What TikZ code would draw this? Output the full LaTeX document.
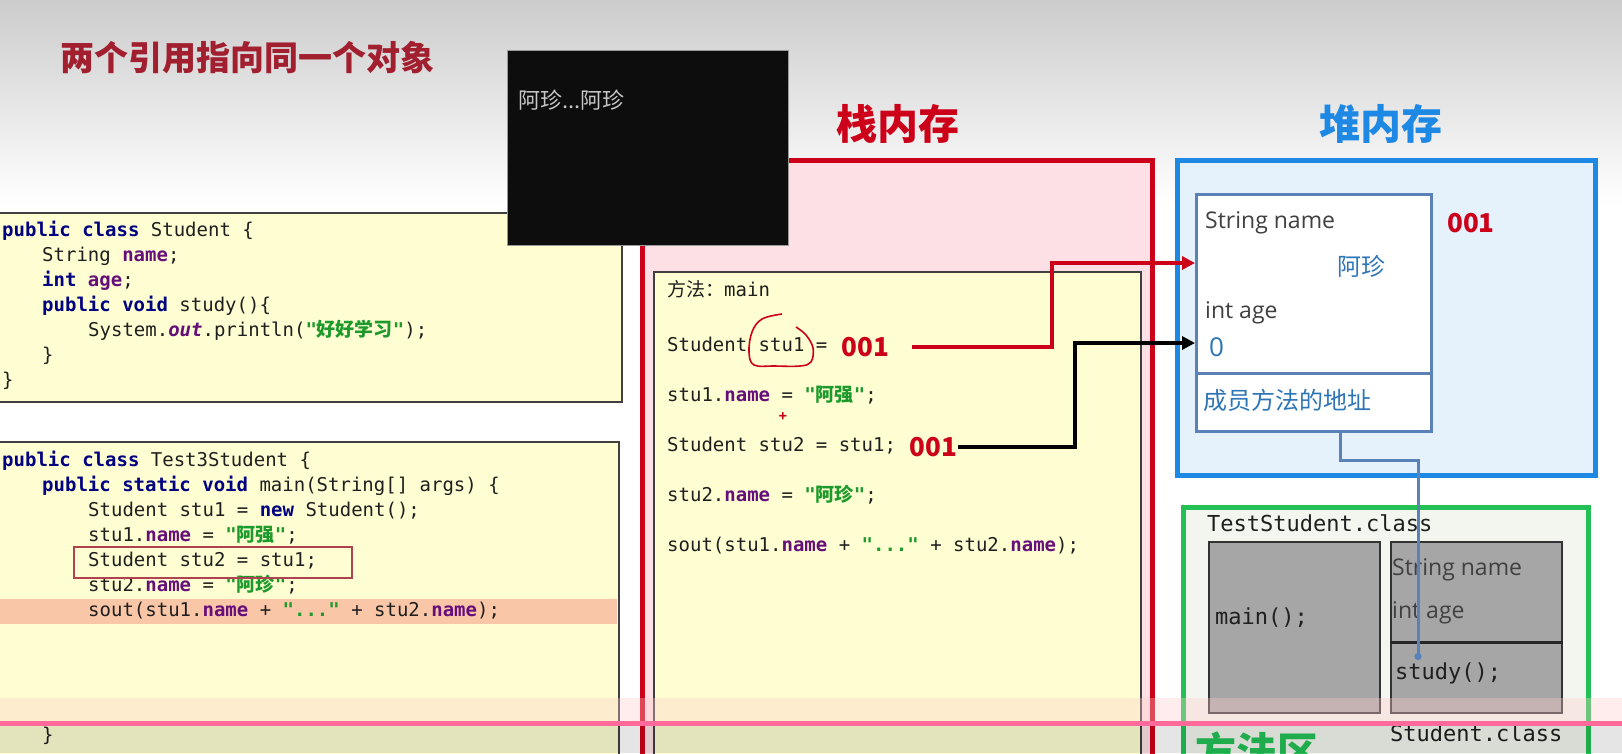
\documentclass[tikz,border=0pt]{standalone}
\usepackage{fontspec}
\setmainfont{Open Sans}
\setsansfont{Open Sans}
\setmonofont{DejaVu Sans Mono}
\newfontfamily\cjk{Noto Sans CJK SC}
\usetikzlibrary{arrows.meta, positioning, calc}

\definecolor{kwnavy}{HTML}{000080}
\definecolor{fldpurple}{HTML}{660E7A}
\definecolor{strgreen}{HTML}{1E9A2C}
\definecolor{titlered}{HTML}{A21F2F}
\definecolor{stackred}{HTML}{CC0018}
\definecolor{stackfill}{HTML}{FDE0E5}
\definecolor{codefill}{HTML}{FEFED2}
\definecolor{heapblue}{HTML}{1E88E5}
\definecolor{heapfill}{HTML}{E5F1FB}
\definecolor{objblue}{HTML}{5B82B8}
\definecolor{valblue}{HTML}{2E75B6}
\definecolor{areagreen}{HTML}{22C055}
\definecolor{areafill}{HTML}{F2F6EE}
\definecolor{slotgray}{HTML}{A6A6A6}
\definecolor{peach}{HTML}{F9C6A8}
\definecolor{barpink}{HTML}{FF6A9B}

\newcommand\jkw[1]{{\color{kwnavy}\bfseries #1}}
\newcommand\jfld[1]{{\color{fldpurple}\bfseries #1}}
\newcommand\jstr[1]{{\color{strgreen}\bfseries #1}}
\newcommand\zh[1]{{\cjk #1}}

\begin{document}
\begin{tikzpicture}[
    x=1pt, y=-1pt,
    code/.style={
        anchor=west, inner sep=0pt, text=black!88, text height=14pt, text depth=5pt,
        font=\fontsize{19}{19}\selectfont\ttfamily
    },
    mono/.style={
        anchor=west, inner sep=0pt, text=black!88,
        font=\fontsize{22}{22}\selectfont\ttfamily
    },
    field/.style={
        anchor=west, inner sep=0pt, text=black!75,
        font=\fontsize{23}{23}\selectfont\sffamily
    },
    value/.style={
        anchor=west, inner sep=0pt, text=valblue,
        font=\fontsize{24}{24}\selectfont\sffamily
    },
    addr/.style={
        anchor=west, inner sep=0pt, text=stackred,
        font=\cjk\bfseries\fontsize{26}{26}\selectfont
    },
    heading/.style={
        inner sep=0pt, font=\cjk\bfseries\fontsize{41}{41}\selectfont
    },
    codebox/.style={rectangle, draw=black!75, line width=1.5pt, fill=codefill, anchor=north west},
    stackbox/.style={rectangle, draw=stackred, line width=4.5pt, fill=stackfill, anchor=north west},
    heapbox/.style={rectangle, draw=heapblue, line width=4.5pt, fill=heapfill, anchor=north west},
    objbox/.style={rectangle, draw=objblue, line width=3pt, fill=white, anchor=north west},
    areabox/.style={rectangle, draw=areagreen, line width=4.5pt, fill=areafill, anchor=north west},
    slot/.style={rectangle, draw=black!80, line width=2pt, fill=slotgray, anchor=north west,
        minimum width=171, minimum height=171},
    ref/.style={line width=4pt, -{Triangle[length=13pt, width=13pt]}},
    link/.style={draw=objblue, line width=3pt, -{Circle[length=7pt]}}
]

\fill[white] (0,0) rectangle (1622,753);
\useasboundingbox (0,0) rectangle (1622,753);
\shade[top color=black!20, bottom color=white] (0,0) rectangle (1622,205);

\node[heading, anchor=west, text=titlered, font=\cjk\bfseries\fontsize{34}{34}\selectfont] (title) at (60,58) {两个引用指向同一个对象};

% Java source
\node[codebox, minimum width=627, minimum height=189] (clsbox) at (-6,212) {};
\node[code] (c1) at (2,232) {\jkw{public} \jkw{class} Student \{};
\node[code] (c2) at (42,257) {String \jfld{name};};
\node[code] (c3) at (42,282) {\jkw{int} \jfld{age};};
\node[code] (c4) at (42,307) {\jkw{public} \jkw{void} study()\{};
\node[code] (c5) at (88,332) {System.{\color{fldpurple}\bfseries\itshape out}.println(\jstr{"\zh{好好学习}"});};
\node[code] (c6) at (42,357) {\}};
\node[code] (c7) at (2,382) {\}};

\node[codebox, minimum width=624, minimum height=400] (mainbox) at (-6,441) {};
\fill[peach] (0,599) rectangle (617,624);
\node[code] (m1) at (2,462) {\jkw{public} \jkw{class} Test3Student \{};
\node[code] (m2) at (42,487) {\jkw{public} \jkw{static} \jkw{void} main(String[] args) \{};
\node[code] (m3) at (88,512) {Student stu1 = \jkw{new} Student();};
\node[code] (m4) at (88,537) {stu1.\jfld{name} = \jstr{"\zh{阿强}"};};
\node[code] (m5) at (88,562) {Student stu2 = stu1;};
\node[code] (m6) at (88,587) {stu2.\jfld{name} = \jstr{"\zh{阿珍}"};};
\node[code] (m7) at (88,612) {sout(stu1.\jfld{name} + \jstr{"..."} + stu2.\jfld{name});};
\node[code] (m8) at (42,737) {\}};
\draw[draw=titlered!85, line width=2.5pt] (74,547) rectangle (352,578);

% stack
\node[heading, text=stackred] (stacklbl) at (898,124) {栈内存};
\node[stackbox, minimum width=510, minimum height=700] (stack) at (640,158) {};
\node[codebox, minimum width=487, minimum height=600] (frame) at (653,271) {};
\node[code] (s1) at (667,292) {\zh{方法：}main};
\node[code] (s2) at (667,347) {Student stu1 =};
\node[addr, right=14pt of s2] (addr1) {001};
\node[code] (s3) at (667,397) {stu1.\jfld{name} = \jstr{"\zh{阿强}"};};
\node[code] (s4) at (667,447) {Student stu2 = stu1;};
\node[addr, right=13pt of s4] (addr2) {001};
\node[code] (s5) at (667,497) {stu2.\jfld{name} = \jstr{"\zh{阿珍}"};};
\node[code] (s6) at (667,547) {sout(stu1.\jfld{name} + \jstr{"..."} + stu2.\jfld{name});};
\draw[stackred, line width=1.6pt] plot[smooth, tension=0.6] coordinates {
    (782,314) (762,319) (752,332) (749,352) (754,365) (775,366) (800,366) (811,362) (813,348) (806,335) (796,327)};
\node[text=stackred, inner sep=0pt, font=\bfseries\fontsize{15}{15}\selectfont] (cursor) at (783,417) {+};

% heap
\node[heading, text=heapblue] (heaplbl) at (1381,124) {堆内存};
\node[heapbox, minimum width=418, minimum height=315] (heap) at (1175,158) {};
\node[objbox, minimum width=235, minimum height=237] (obj) at (1195,193) {};
\draw[draw=objblue, line width=3pt] ([yshift=-180pt]obj.north west) -- ([yshift=-180pt]obj.north east);
\node[field] (fname) at (1205,223) {String name};
\node[value] (vname) at (1337,266) {\zh{阿珍}};
\node[field] (fage) at (1205,313) {int age};
\node[value, font=\fontsize{26}{26}\selectfont\sffamily] (vage) at (1209,347) {0};
\node[value] (maddr) at (1203,400) {\zh{成员方法的地址}};
\node[addr] (objaddr) at (1447,223) {001};

% method area
\node[areabox, minimum width=405, minimum height=300] (area) at (1181,505) {};
\node[mono] (tcls) at (1207,523) {TestStudent.class};
\node[slot] (slotmain) at (1208,541) {};
\node[slot] (slotcls) at (1390,541) {};
\draw[black!85, line width=3pt] ([yshift=-101pt]slotcls.north west) -- ([yshift=-101pt]slotcls.north east);
\node[mono] (mmain) at (1215,618) {main();};
\node[field] (gname) at (1392,570) {String name};
\node[field] (gage) at (1392,613) {int age};
\node[mono] (study) at (1395,673) {study();};
\node[mono] (scls) at (1390,733) {Student.class};
\node[heading, anchor=west, text=areagreen] (arealbl) at (1195,752) {方法区};

% references
\coordinate (bendA) at (1052,263);
\coordinate (bendB) at (1075,343);
\draw[ref, stackred] ([xshift=23pt]addr1.east) -| (bendA) -- (bendA -| obj.west);
\draw[ref, black] ([xshift=1pt]addr2.east) -| (bendB) -- (bendB -| obj.west);
\coordinate (linktop) at (1340,430);
\coordinate (linkend) at (1418,660);
\draw[link] (linktop) -- ++(0,30) -| (linkend);

% console output
\node[rectangle, draw=black!40, fill=black!95, anchor=north west, minimum width=281, minimum height=195] (popup) at (507,50) {};
\node[anchor=west, inner sep=0pt, text=black!22, font=\cjk\fontsize{22}{22}\selectfont] (output) at (518,100) {阿珍...阿珍};

% player bar
\fill[pink!80, opacity=0.35] (0,698) rectangle (1622,721);
\fill[barpink] (0,721) rectangle (1622,726);
\fill[black, opacity=0.1] (0,726) rectangle (1622,753);

\end{tikzpicture}
\end{document}
